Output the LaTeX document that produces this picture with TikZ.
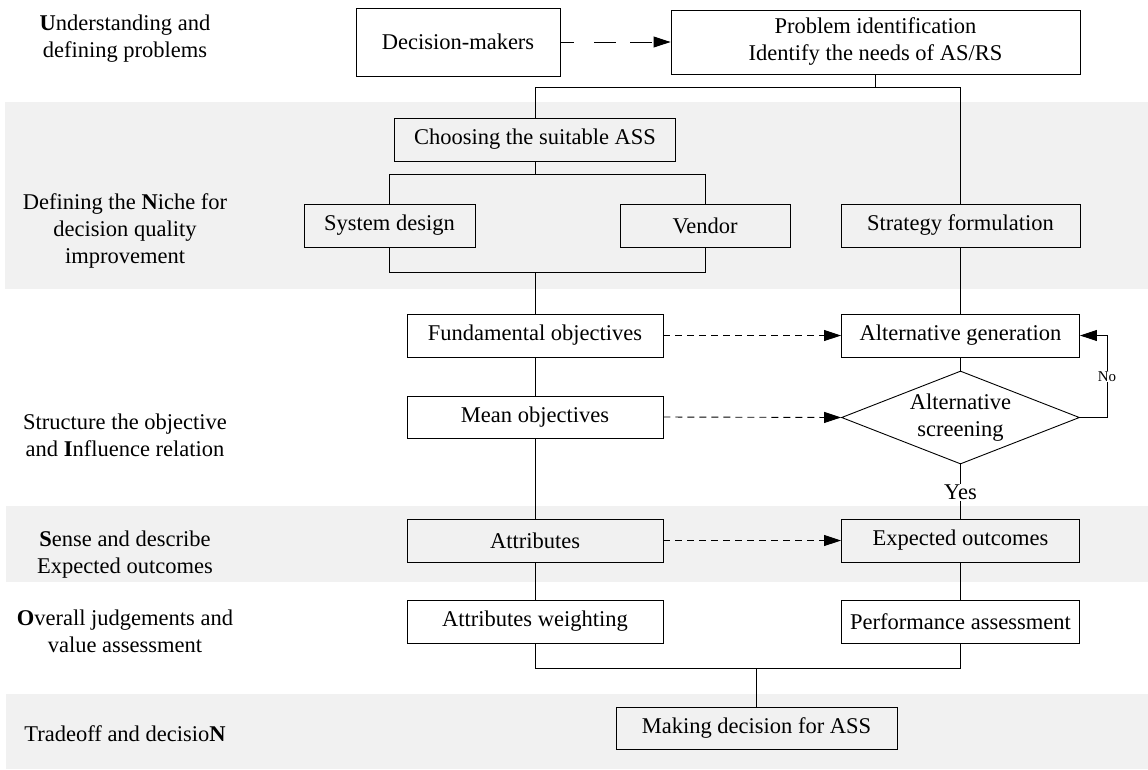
\documentclass[tikz,border=0pt]{standalone}
\usepackage{fontspec}
\setmainfont{Liberation Serif}
\usetikzlibrary{arrows.meta,shapes.geometric}
\definecolor{bandgray}{HTML}{F1F1F1}
\tikzset{
  box/.style={draw, line width=0.9pt, minimum height=43pt, inner sep=2pt, fill=white},
  gbox/.style={box, fill=bandgray},
  link/.style={line width=0.9pt},
  tip/.style={-{Triangle[length=17pt,width=11pt]}},
  dlink/.style={link, tip, dash pattern=on 7pt off 5pt},
  lbl/.style={align=center}
}

\begin{document}
\begin{tikzpicture}[x=1pt, y=-1pt, font=\fontsize{22.5pt}{27pt}\selectfont]
    \useasboundingbox (0,0) rectangle (1148,769);
    %% Bands
    \fill[bandgray] (5,102) rectangle (1148,289);
    \fill[bandgray] (6,506) rectangle (1148,582);
    \fill[bandgray] (6,694) rectangle (1148,769);
    %% Stage labels
    \node[lbl] (l1) at (125,39) {\textbf{U}nderstanding and\\defining problems};
    \node[lbl] (l2) at (125,231) {Defining the \textbf{N}iche for\\decision quality\\improvement};
    \node[lbl] (l3) at (125,435) {Structure the objective\\and \textbf{I}nfluence relation};
    \node[lbl] (l4) at (125,555) {\textbf{S}ense and describe\\Expected outcomes};
    \node[lbl] (l5) at (125,631) {\textbf{O}verall judgements and\\value assessment};
    \node[lbl] (l6) at (125,734) {Tradeoff and decisio\textbf{N}};
    %% Boxes
    \node[box, minimum width=204pt, minimum height=68pt] (dm) at (458,42) {Decision-makers};
    \node[box, minimum width=409pt, minimum height=64pt, align=center] (prob) at (875.5,42)
        {Problem identification\\Identify the needs of AS/RS};
    \node[gbox, minimum width=281pt] (choose) at (535,139.5) {Choosing the suitable ASS};
    \node[gbox, minimum width=171pt] (sys) at (389.5,225.5) {System design};
    \node[gbox, minimum width=170pt] (vend) at (705,225.5) {Vendor};
    \node[gbox, minimum width=239pt] (strat) at (960.5,225.5) {Strategy formulation};
    \node[box, minimum width=256pt] (fund) at (535,335.5) {Fundamental objectives};
    \node[box, minimum width=238pt] (altgen) at (960.5,335.5) {Alternative generation};
    \node[box, minimum width=256pt, minimum height=42pt] (mean) at (535,417) {Mean objectives};
    \node[diamond, draw, line width=0.9pt, fill=white, minimum width=238pt, minimum height=93pt,
        inner sep=0pt, aspect=2.56, align=center] (screen) at (960.5,417.5) {Alternative\\screening};
    \node[gbox, minimum width=256pt] (attr) at (535,540.5) {Attributes};
    \node[gbox, minimum width=238pt] (expect) at (960.5,540.5) {Expected outcomes};
    \node[box, minimum width=256pt] (weight) at (535,621.5) {Attributes weighting};
    \node[box, minimum width=238pt] (perf) at (960.5,621.5) {Performance assessment};
    \node[gbox, minimum width=281pt, minimum height=42pt] (decide) at (756.5,728) {Making decision for ASS};
    %% Solid links
    \draw[link] (prob.south) -- ++(0,13) coordinate (t1);
    \draw[link] (choose.north) |- (t1) -| (strat.north);
    \draw[link] (choose.south) -- ++(0,13) coordinate (t2);
    \draw[link] (sys.north) |- (t2) -| (vend.north);
    \draw[link] (sys.south) -- ++(0,25) coordinate (t3) -| (vend.south);
    \draw[link] (t3 -| fund.north) -- (fund.north);
    \draw[link] (strat.south) -- (altgen.north);
    \draw[link] (fund.south) -- (mean.north);
    \draw[link] (mean.south) -- (attr.north);
    \draw[link] (attr.south) -- (weight.north);
    \draw[link] (altgen.south) -- (screen.north);
    \draw[link] (screen.south) -- node[fill=white, inner sep=1pt, pos=0.52] (yes) {Yes} (expect.north);
    \draw[link] (expect.south) -- (perf.north);
    \draw[link] (weight.south) -- ++(0,25) coordinate (t4) -| (perf.south);
    \draw[link] (decide.north) -- (decide.north |- t4);
    %% Dashed links
    \draw[link, tip, dash pattern=on 14pt off 20pt on 22pt off 14pt on 22pt off 6pt] (dm.east) -- (prob.west);
    \draw[dlink] (fund.east) -- (altgen.west);
    \draw[dlink] (mean.east) -- (screen.west);
    \draw[dlink] (attr.east) -- (expect.west);
    %% Loop back
    \draw[link, tip] (screen.east) -- ++(27,0) |- node[pos=0.25, fill=white, inner sep=1pt,
        font=\fontsize{15pt}{18pt}\selectfont] (no) {No} (altgen.east);
\end{tikzpicture}
\end{document}
